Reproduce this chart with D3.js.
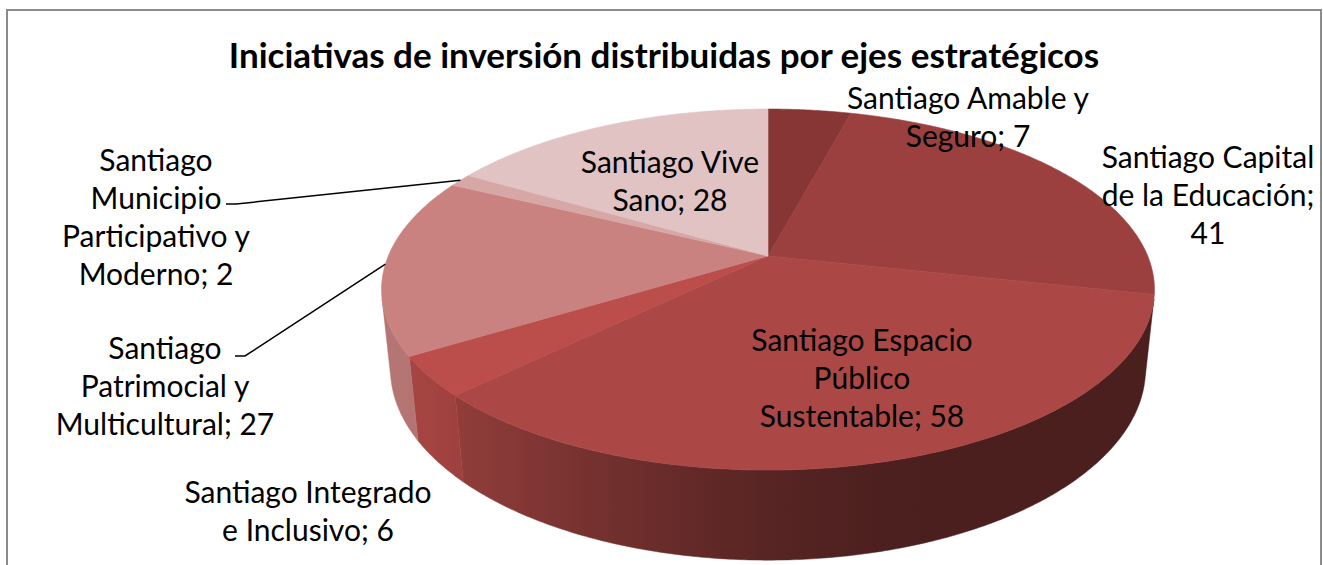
<!DOCTYPE html>
<html>
<head>
<meta charset="utf-8">
<script src="https://cdn.jsdelivr.net/npm/d3@7"></script>
<style>
  body { margin: 0; background: #fff; }
  text { font-family: Lato, "Open Sans", sans-serif; fill: #000; }
</style>
</head>
<body>
<svg id="chart" width="1323" height="565"></svg>
<script>
const categories = [
  "Santiago Amable y Seguro",
  "Santiago Capital de la Educación",
  "Santiago Espacio Público Sustentable",
  "Santiago Integrado e Inclusivo",
  "Santiago Patrimocial y Multicultural",
  "Santiago Municipio Participativo y Moderno",
  "Santiago Vive Sano"
];
const values = [7, 41, 58, 6, 27, 2, 28];
const colors = ["#883535", "#9b403e", "#ab4845", "#bb4d4a", "#c98280", "#d7a7a6", "#e2c3c4"];

// how many words go on each line of a label
const labelBreaks = [[3, 2], [2, 3, 1], [2, 1, 2], [2, 3], [1, 2, 2], [1, 1, 2, 2], [2, 2]];
// centre of the first line of every label
const labelPos = [[968, 98], [1208, 157], [862, 340], [308, 492], [165, 348], [156, 160], [670, 162]];
// labels that get a leader line: index -> start point
const leaderStart = { 4: [235, 356], 5: [226, 204] };

const width = 1323, height = 565;
const svg = d3.select("#chart");
const defs = svg.append("defs");

svg.append("rect")
   .attr("x", 7).attr("y", 10)
   .attr("width", 1314).attr("height", 600)
   .attr("fill", "#fff")
   .attr("stroke", "#8a8a8a")
   .attr("stroke-width", 2);

svg.append("text")
   .attr("x", 664).attr("y", 68)
   .attr("text-anchor", "middle")
   .attr("font-weight", "bold")
   .attr("font-size", 35)
   .text("Iniciativas de inversión distribuidas por ejes estratégicos");

// perspective camera looking down on the pie
const cx = 768, cy = 256, f = 1815, D = 4.78;
const tilt = Math.asin(0.459);
const sinA = Math.sin(tilt), cosA = Math.cos(tilt);
const depth = 0.238;
const rad = Math.PI / 180;

function project(t, r, z) {
  const X = r * Math.sin(t), Y = r * Math.cos(t);
  const yc = Y * sinA + z * cosA;
  const zc = D + Y * cosA - z * sinA;
  return [cx + f * X / zc, cy - f * yc / zc];
}

// angles where the side wall turns away from the camera
const tMin = Math.acos(-1 / (D * cosA));
const tMax = 2 * Math.PI - tMin;

const pie = d3.pie().sort(null).value(d => d)(values);

// side wall shading, brightest facing front-left
function shade(t) {
  const c = Math.max(0, Math.cos(t - 245 * rad));
  return 0.43 + 0.47 * c * c;
}

const x0 = 370, x1 = 1170;
const gradT = d3.range(tMax, tMin, -2 * rad);

pie.forEach((p, i) => {
  const base = d3.rgb(colors[i]);
  const g = defs.append("linearGradient")
     .attr("id", "wall" + i)
     .attr("gradientUnits", "userSpaceOnUse")
     .attr("x1", x0).attr("x2", x1).attr("y1", 0).attr("y2", 0);
  g.selectAll("stop")
   .data(gradT)
   .join("stop")
     .attr("offset", t => (project(t, 1, 0)[0] - x0) / (x1 - x0))
     .attr("stop-color", t => {
       const s = shade(t);
       return d3.rgb(base.r * s, base.g * s, base.b * s).formatHex();
     });
});

function arcPts(a0, a1, z) {
  const n = Math.max(2, Math.ceil((a1 - a0) / (0.5 * rad)));
  return d3.range(n + 1).map(k => project(a0 + (a1 - a0) * k / n, 1, z));
}

// front facing part of every wall
const walls = pie.map((p, i) => ({
  i, a0: Math.max(p.startAngle, tMin), a1: Math.min(p.endAngle, tMax)
})).filter(d => d.a1 > d.a0);

svg.append("g")
   .selectAll("path")
   .data(walls)
   .join("path")
     .attr("d", d => {
       const top = arcPts(d.a0, d.a1, 0);
       const bot = arcPts(d.a0, d.a1, -depth).reverse();
       return "M" + top.concat(bot).join("L") + "Z";
     })
     .attr("fill", d => `url(#wall${d.i})`)
     .attr("stroke", d => `url(#wall${d.i})`)
     .attr("stroke-width", 0.5);

svg.append("g")
   .selectAll("path")
   .data(pie)
   .join("path")
     .attr("d", p => "M" + [project(0, 0, 0)].concat(arcPts(p.startAngle, p.endAngle, 0)).join("L") + "Z")
     .attr("fill", (d, i) => colors[i])
     .attr("stroke", (d, i) => colors[i])
     .attr("stroke-width", 0.6);

// leader lines
Object.entries(leaderStart).forEach(([i, s]) => {
  const p = pie[i];
  const end = project((p.startAngle + p.endAngle) / 2, 1, 0);
  svg.append("path")
     .attr("d", d3.line()([s, [s[0] + 10, s[1]], end]))
     .attr("fill", "none")
     .attr("stroke", "#000")
     .attr("stroke-width", 1.5);
});

// labels
const lineH = 38;
categories.forEach((c, i) => {
  const words = `${c}; ${values[i]}`.split(" ");
  const lines = [];
  let w = 0;
  labelBreaks[i].forEach(n => { lines.push(words.slice(w, w + n).join(" ")); w += n; });
  const t = svg.append("text")
     .attr("text-anchor", "middle")
     .attr("font-size", 30);
  lines.forEach((l, j) => {
    t.append("tspan")
     .attr("x", labelPos[i][0])
     .attr("y", labelPos[i][1] + j * lineH)
     .attr("dy", "0.36em")
     .text(l);
  });
});
</script>
</body>
</html>
